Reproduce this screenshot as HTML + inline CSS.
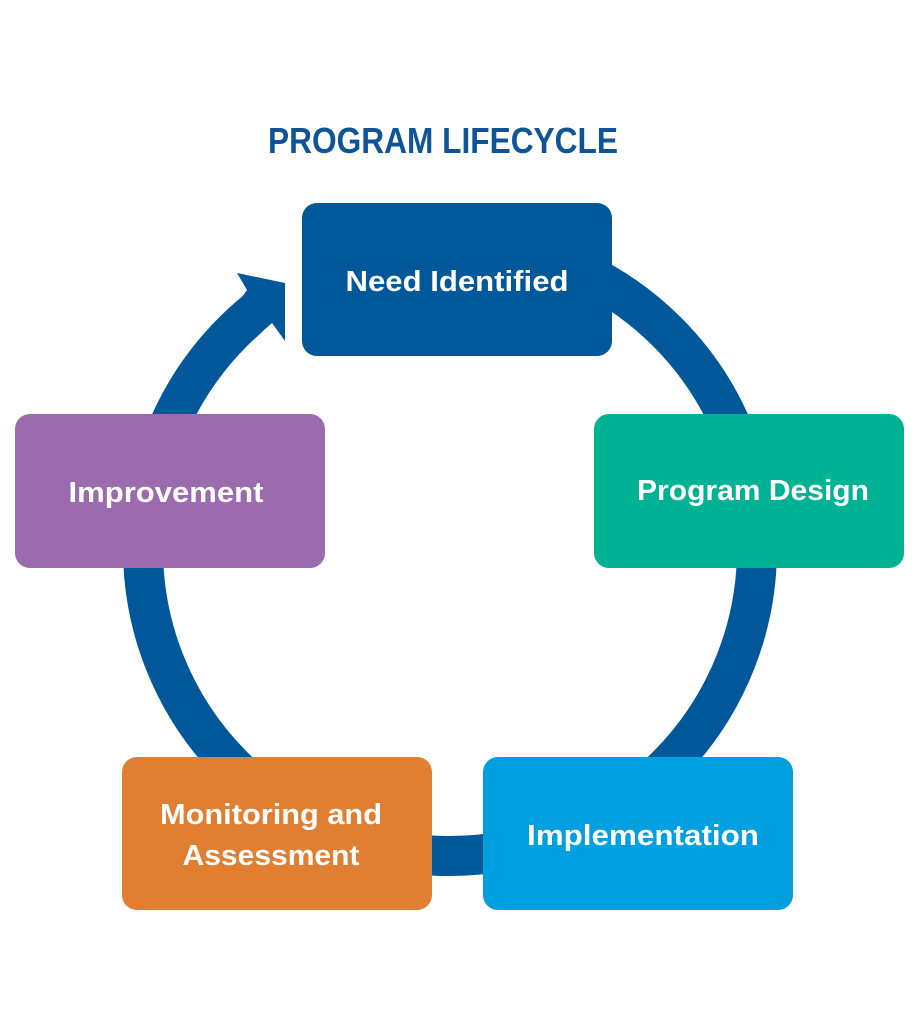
<!DOCTYPE html>
<html><head><meta charset="utf-8"><style>html,body{margin:0;padding:0;background:#fff}svg{display:block}</style></head>
<body>
<svg width="916" height="1024" viewBox="0 0 916 1024" xmlns="http://www.w3.org/2000/svg">
<rect width="916" height="1024" fill="#fff"/>
<circle cx="450" cy="549" r="307" fill="none" stroke="#00579a" stroke-width="40"/>
<rect x="262" y="230" width="40" height="125" fill="#fff"/>
<polygon points="237,273 285,283 285,341 272,323 255,338 240,300 247,290" fill="#00579a"/>
<g font-family="Liberation Sans, sans-serif" font-weight="bold">
<text x="443" y="153" font-size="36" fill="#0e5597" text-anchor="middle" textLength="350" lengthAdjust="spacingAndGlyphs">PROGRAM LIFECYCLE</text>
<rect x="302" y="203" width="310" height="153" rx="15" fill="#00579a"/>
<text x="457" y="291" font-size="29" fill="#fff" text-anchor="middle" textLength="223" lengthAdjust="spacingAndGlyphs">Need Identified</text>
<rect x="594" y="414" width="310" height="154" rx="15" fill="#00b294"/>
<text x="753" y="500" font-size="29" fill="#fff" text-anchor="middle" textLength="232" lengthAdjust="spacingAndGlyphs">Program Design</text>
<rect x="483" y="757" width="310" height="153" rx="15" fill="#009fdf"/>
<text x="643" y="845" font-size="29" fill="#fff" text-anchor="middle" textLength="232" lengthAdjust="spacingAndGlyphs">Implementation</text>
<rect x="122" y="757" width="310" height="153" rx="15" fill="#e07f32"/>
<text x="271" y="824" font-size="29" fill="#fff" text-anchor="middle" textLength="222" lengthAdjust="spacingAndGlyphs">Monitoring and</text>
<text x="271" y="865" font-size="29" fill="#fff" text-anchor="middle" textLength="177" lengthAdjust="spacingAndGlyphs">Assessment</text>
<rect x="15" y="414" width="310" height="154" rx="15" fill="#9b6bad"/>
<text x="166" y="502" font-size="29" fill="#fff" text-anchor="middle" textLength="195" lengthAdjust="spacingAndGlyphs">Improvement</text>
</g>
</svg>
</body></html>
